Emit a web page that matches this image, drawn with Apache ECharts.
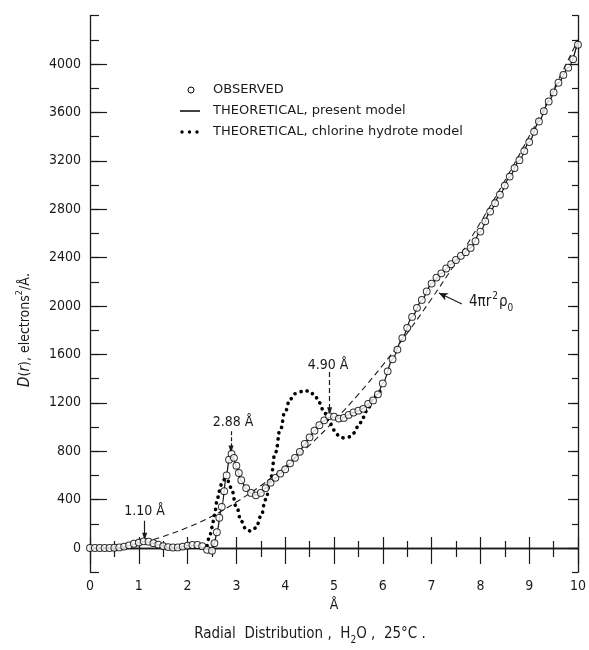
<!DOCTYPE html>
<html><head><meta charset="utf-8">
<script src="https://cdn.jsdelivr.net/npm/echarts@6/dist/echarts.min.js"></script>
<style>html,body{margin:0;padding:0;background:#fff}#c{width:589px;height:650px}</style>
</head><body><div id="c"></div>
<script>
// ---------- data ----------
const observedR = [0,0.1,0.2,0.3,0.4,0.5,0.6,0.7,0.8,0.9,1.0,1.1,1.2,1.3,1.4,1.5,1.6,1.7,1.8,1.9,2.0,2.1,2.2,2.3,2.4,2.5,2.55,2.6,2.65,2.7,2.75,2.8,2.85,2.9,2.95,3.0,3.05,3.1,3.2,3.3,3.4,3.5,3.6,3.7,3.8,3.9,4.0,4.1,4.2,4.3,4.4,4.5,4.6,4.7,4.8,4.9,5.0,5.1,5.2,5.3,5.4,5.5,5.6,5.7,5.8,5.9,6.0,6.1,6.2,6.3,6.4,6.5,6.6,6.7,6.8,6.9,7.0,7.1,7.2,7.3,7.4,7.5,7.6,7.7,7.8,7.9,8.0,8.1,8.2,8.3,8.4,8.5,8.6,8.7,8.8,8.9,9.0,9.1,9.2,9.3,9.4,9.5,9.6,9.7,9.8,9.9,10.0];
const observedD = [0,0,0,0,0,2,5,12,22,35,45,55,52,40,28,16,8,4,5,12,20,25,25,15,-15,-22,40,130,250,340,470,600,730,778,745,680,620,560,495,455,435,455,495,540,580,615,650,700,745,795,860,915,970,1015,1055,1090,1085,1070,1075,1100,1120,1135,1150,1190,1220,1270,1360,1460,1560,1640,1735,1820,1910,1985,2050,2120,2185,2235,2270,2310,2345,2380,2415,2445,2480,2535,2615,2700,2780,2850,2920,2995,3070,3140,3205,3280,3355,3440,3525,3610,3690,3765,3845,3910,3970,4040,4160];

const presentR = [0,0.5,0.6,0.7,0.8,0.9,1.0,1.1,1.2,1.3,1.4,1.5,1.6,1.7,1.8,1.9,2.0,2.1,2.2,2.3,2.4,2.5,2.55,2.6,2.7,2.8,2.85,2.9,2.95,3.0,3.1,3.2,3.3,3.4,3.5,3.6,3.7,3.8,3.9,4.0,4.1,4.2,4.3,4.4,4.5,4.6,4.7,4.8,4.9,5.0,5.1,5.2,5.3,5.4,5.5,5.6,5.7,5.8,5.9,6.0,6.2,6.4,6.6,6.8,7.0,7.2,7.4,7.6,7.8,8.0,8.2,8.4,8.6,8.8,9.0,9.2,9.4,9.6,9.8,10.0];
const presentD = [0,0,4,10,20,32,45,53,50,40,27,15,7,4,6,12,18,22,20,8,-12,-15,40,130,340,610,730,765,735,670,555,490,452,438,455,495,540,580,615,650,700,748,800,860,915,968,1015,1052,1080,1080,1072,1080,1100,1118,1135,1155,1190,1225,1275,1360,1560,1735,1910,2050,2185,2270,2345,2415,2480,2615,2780,2920,3070,3205,3355,3525,3690,3845,3970,4190];

const chlorineR = [2.4,2.45,2.5,2.55,2.6,2.65,2.7,2.75,2.8,2.85,2.9,3.0,3.1,3.2,3.3,3.4,3.5,3.6,3.7,3.8,3.9,4.0,4.1,4.2,4.3,4.4,4.5,4.6,4.7,4.8,4.9,5.0,5.1,5.2,5.3,5.4,5.5,5.6,5.7,5.8,5.9,5.95];
const chlorineD = [20,90,170,270,380,470,530,565,575,545,480,340,220,155,140,165,260,400,580,790,980,1130,1230,1275,1292,1300,1295,1265,1200,1120,1040,975,930,910,918,950,1005,1080,1160,1230,1275,1300];

const densityR = [1.3,1.5,2.0,2.5,3.0,3.5,4.0,4.5,5.0,5.5,6.0,6.5,7.0,7.5,8.0,8.5,9.0,9.5,10.0];
const densityD = [70,95,170,262,380,515,672,850,1050,1270,1512,1775,2060,2362,2690,3035,3402,3790,4200];

const xTickValues = [0,1,2,3,4,5,6,7,8,9,10];
const yTickValues = [0,400,800,1200,1600,2000,2400,2800,3200,3600,4000];
const peakLabels = ['1.10 Å','2.88 Å','4.90 Å'];
const seriesNames = ['OBSERVED','THEORETICAL, present model','THEORETICAL, chlorine hydrote model'];

// ---------- chart ----------
const zip = (a, b) => a.map((v, i) => [v, b[i]]);
const FONT = "'DejaVu Sans Condensed','DejaVu Sans',sans-serif";
const INK = '#1a1a1a';

const chart = echarts.init(document.getElementById('c'), null, {renderer: 'canvas'});

function yAx(pos, major, len, show) {
  const base = {
    type: 'value', position: pos, min: -200, max: 4400,
    splitLine: {show: false},
    axisLine: {show: show, lineStyle: {color: INK, width: 1.3}},
  };
  if (major) {
    base.axisTick = {show: true, inside: true, length: len, customValues: yTickValues, lineStyle: {color: INK, width: 1.2}};
    base.axisLabel = {show: pos === 'left', customValues: yTickValues, formatter: v => String(v),
                      fontFamily: FONT, fontSize: 14, color: INK, margin: 9};
  } else {
    base.interval = 200;
    base.axisTick = {show: true, inside: true, length: len, lineStyle: {color: INK, width: 1.2}};
    base.axisLabel = {show: false};
  }
  return base;
}

const option = {
  animation: false,
  backgroundColor: '#fff',
  grid: {left: 90, right: 7, top: 15.6, bottom: 77.8},
  xAxis: [
    {type: 'value', position: 'bottom', min: 0, max: 10, interval: 1,
     name: 'Å', nameLocation: 'middle', nameGap: 24,
     nameTextStyle: {fontFamily: FONT, fontSize: 14, color: INK},
     splitLine: {show: false},
     axisLine: {lineStyle: {color: INK, width: 1.3}},
     axisTick: {inside: true, length: 11, lineStyle: {color: INK, width: 1.2}},
     minorTick: {show: true, splitNumber: 2, length: 7, lineStyle: {color: INK, width: 1.2}},
     axisLabel: {fontFamily: FONT, fontSize: 14, color: INK, margin: 7, formatter: v => String(v)}},
    {type: 'value', position: 'top', min: 0, max: 10, interval: 1,
     splitLine: {show: false},
     axisLine: {lineStyle: {color: INK, width: 1.3}},
     axisTick: {inside: true, length: 16, lineStyle: {color: INK, width: 1.2}},
     minorTick: {show: true, splitNumber: 2, length: 9, lineStyle: {color: INK, width: 1.2}},
     axisLabel: {show: false}}
  ],
  yAxis: [
    yAx('left', true, 17, true),
    yAx('left', false, 9, false),
    yAx('right', true, 10, true),
    yAx('right', false, 6, false)
  ],
  series: [
    {
      name: seriesNames[2], type: 'line', data: zip(chlorineR, chlorineD),
      showSymbol: false, symbol: 'none', smooth: 0.5, smoothMonotone: 'x',
      lineStyle: {color: '#000', width: 3.6, type: [0.1, 6.2], cap: 'round'}, z: 3
    },
    {
      name: '4πr²ρ0', type: 'line', data: zip(densityR, densityD),
      showSymbol: false, symbol: 'none', smooth: 0.4,
      lineStyle: {color: INK, width: 1.1, type: [6, 4]}, z: 2
    },
    {
      name: seriesNames[1], type: 'line', data: zip(presentR, presentD),
      showSymbol: false, symbol: 'none', smooth: 0.3, smoothMonotone: 'x',
      lineStyle: {color: INK, width: 1.3}, z: 4,
      markLine: {
        silent: true, symbol: ['none', 'none'], label: {show: false},
        lineStyle: {color: INK, width: 1.2, type: 'solid'},
        data: [
          [{coord: [0, 0], symbol: 'none'}, {coord: [10, 0], symbol: 'none'}],
          [{coord: [1.12, 225], symbol: 'none'}, {coord: [1.12, 92], symbol: 'triangle', symbolSize: [5, 8], symbolRotate: 180}],
          [{coord: [2.89, 965], symbol: 'none', lineStyle: {type: [4, 2]}}, {coord: [2.89, 815], symbol: 'triangle', symbolSize: [5, 8], symbolRotate: 180}],
          [{coord: [4.91, 1455], symbol: 'none', lineStyle: {type: [5, 3]}}, {coord: [4.91, 1130], symbol: 'triangle', symbolSize: [5, 8], symbolRotate: 180}],
          [{coord: [7.62, 2017], symbol: 'none'}, {coord: [7.15, 2108], symbol: 'arrow', symbolSize: [6, 9]}]
        ]
      },
      markPoint: {
        silent: true, symbol: 'circle', symbolSize: 0,
        label: {show: true, position: 'inside', fontFamily: FONT, fontSize: 14, color: INK, formatter: p => p.name},
        data: [
          {name: peakLabels[0], coord: [1.12, 306]},
          {name: peakLabels[1], coord: [2.93, 1035]},
          {name: peakLabels[2], coord: [4.88, 1512]},
          {name: '4πr{sup|2}ρ{sub|0}', coord: [8.22, 2030],
           label: {rich: {sup: {fontSize: 10, fontFamily: FONT, color: INK, verticalAlign: 'top', lineHeight: 22, padding: [0, 1, 0, 1]},
                          sub: {fontSize: 10, fontFamily: FONT, color: INK, verticalAlign: 'bottom', lineHeight: 22}},
                   lineHeight: 22, fontSize: 15}}
        ]
      }
    },
    {
      name: seriesNames[0], type: 'scatter', data: zip(observedR, observedD),
      symbol: 'circle', symbolSize: 6.8,
      itemStyle: {color: '#fff', borderColor: '#000', borderWidth: 1}, z: 6
    }
  ],
  graphic: [
    {type: 'circle', shape: {cx: 191, cy: 90, r: 3}, style: {fill: '#fff', stroke: '#000', lineWidth: 1}},
    {type: 'line', shape: {x1: 180, y1: 111, x2: 200, y2: 111}, style: {stroke: '#000', lineWidth: 1.5}},
    {type: 'circle', shape: {cx: 182, cy: 132, r: 1.7}, style: {fill: '#000'}},
    {type: 'circle', shape: {cx: 189.5, cy: 132, r: 1.7}, style: {fill: '#000'}},
    {type: 'circle', shape: {cx: 197, cy: 132, r: 1.7}, style: {fill: '#000'}},
    {type: 'text', x: 213, y: 90, style: {text: seriesNames[0], font: "13px 'DejaVu Sans'", fill: INK, verticalAlign: 'middle'}},
    {type: 'text', x: 213, y: 111, style: {text: seriesNames[1], font: "13px 'DejaVu Sans'", fill: INK, verticalAlign: 'middle'}},
    {type: 'text', x: 213, y: 132, style: {text: seriesNames[2], font: "13px 'DejaVu Sans'", fill: INK, verticalAlign: 'middle'}},
    {type: 'text', x: 25, y: 330, rotation: Math.PI / 2,
     style: {text: '{i|D}({i|r}), electrons{s|2}/Å.', fontFamily: FONT, fontSize: 14, fill: INK, align: 'center', verticalAlign: 'middle', lineHeight: 20,
             rich: {i: {fontStyle: 'italic', fontFamily: FONT, fontSize: 15, fill: INK, lineHeight: 20},
                    s: {fontSize: 9, fontFamily: FONT, fill: INK, verticalAlign: 'top', lineHeight: 20}}}},
    {type: 'text', x: 310, y: 634,
     style: {text: 'Radial  Distribution ,  H{b|2}O ,  25°C .', fontFamily: FONT, fontSize: 15, fill: INK, align: 'center', verticalAlign: 'middle', lineHeight: 22,
             rich: {b: {fontSize: 10, fontFamily: FONT, fill: INK, verticalAlign: 'bottom', lineHeight: 22}}}}
  ]
};
chart.setOption(option);
</script>
</body></html>
